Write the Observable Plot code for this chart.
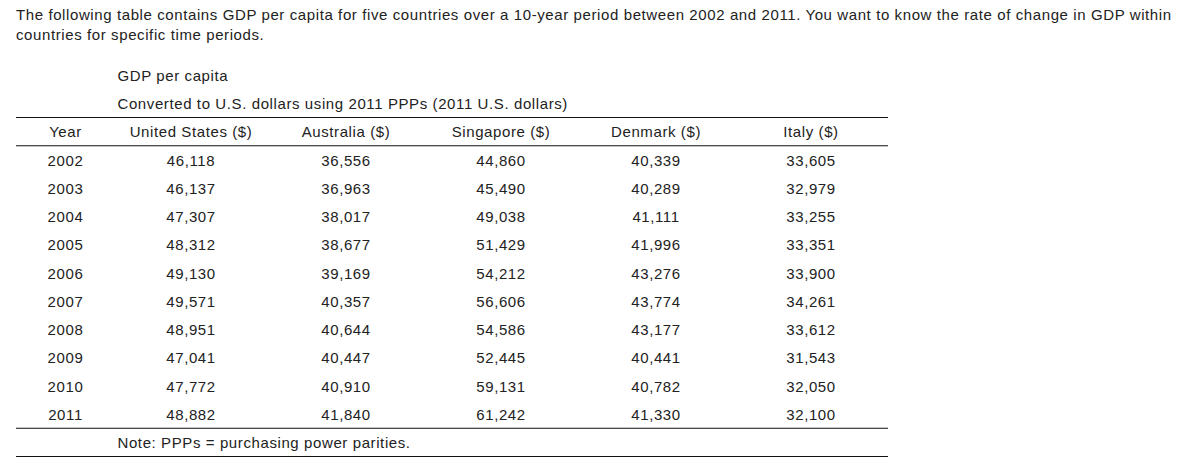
<!DOCTYPE html>
<html>
<head>
<meta charset="utf-8">
<script src="https://cdn.jsdelivr.net/npm/d3@7"></script>
<script src="https://cdn.jsdelivr.net/npm/@observablehq/plot@0.6"></script>
<style>
  html, body { margin: 0; padding: 0; background: #fff; }
  body { width: 1177px; height: 465px; overflow: hidden; font-family: "Liberation Sans", Arial, sans-serif; color: #222; }
  #intro { padding: 5px 0 0 16px; font-size: 15px; letter-spacing: 0.6px; line-height: 20px; height: 40px; white-space: nowrap; }
  svg { display: block; }
</style>
</head>
<body>
<div id="intro"></div>
<div id="chart"></div>
<script>
const introLines = [
  "The following table contains GDP per capita for five countries over a 10-year period between 2002 and 2011. You want to know the rate of change in GDP within",
  "countries for specific time periods."
];
const titleLines = ["GDP per capita", "Converted to U.S. dollars using 2011 PPPs (2011 U.S. dollars)"];
const noteText = "Note: PPPs = purchasing power parities.";
const yearLabel = "Year";
const columnLabels = ["United States ($)", "Australia ($)", "Singapore ($)", "Denmark ($)", "Italy ($)"];
const years = [2002, 2003, 2004, 2005, 2006, 2007, 2008, 2009, 2010, 2011];
const unitedStates = [46118, 46137, 47307, 48312, 49130, 49571, 48951, 47041, 47772, 48882];
const australia = [36556, 36963, 38017, 38677, 39169, 40357, 40644, 40447, 40910, 41840];
const singapore = [44860, 45490, 49038, 51429, 54212, 56606, 54586, 52445, 59131, 61242];
const denmark = [40339, 40289, 41111, 41996, 43276, 43774, 43177, 40441, 40782, 41330];
const italy = [33605, 32979, 33255, 33351, 33900, 34261, 33612, 31543, 32050, 32100];

document.getElementById("intro").innerHTML = introLines.join("<br>");

const series = [unitedStates, australia, singapore, denmark, italy];
const cells = [];
years.forEach((yr, i) => columnLabels.forEach((c, j) => cells.push({year: String(yr), country: c, value: series[j][i]})));

const rows = [...titleLines, yearLabel, ...years.map(String), noteText];
const idx = (r) => rows.indexOf(String(r));
const fmt = d3.format(",");
const fs = 15;
const ink = "#222";

const chart = Plot.plot({
  width: 1177,
  height: 420,
  marginLeft: 16,
  marginRight: 289,
  marginTop: 15.5,
  marginBottom: 9,
  style: {fontFamily: "'Liberation Sans', Arial, sans-serif", fontSize: "15px", letterSpacing: "0.6px", color: ink, background: "#fff"},
  x: {type: "band", domain: columnLabels, axis: null, insetLeft: 96, padding: 0},
  y: {type: "linear", domain: [-0.5, rows.length - 0.5], reverse: true, axis: null},
  marks: [
    Plot.text(titleLines, {y: (d) => idx(d), text: (d) => d, frameAnchor: "left", textAnchor: "start", dx: 101, dy: 1, fontSize: fs, fill: ink}),
    Plot.text(columnLabels, {x: (d) => d, y: () => idx(yearLabel), text: (d) => d, dy: 1, fontSize: fs, fill: ink}),
    Plot.text([yearLabel, ...years], {y: (d) => idx(d), text: (d) => String(d), frameAnchor: "left", textAnchor: "middle", dx: 49, dy: 1, fontSize: fs, fill: ink}),
    Plot.text(cells, {x: "country", y: (d) => idx(d.year), text: (d) => fmt(d.value), dy: 1, fontSize: fs, fill: ink}),
    Plot.text([noteText], {y: (d) => idx(d), text: (d) => d, frameAnchor: "left", textAnchor: "start", dx: 101, dy: 1, fontSize: fs, fill: ink}),
    Plot.ruleY([idx(yearLabel) - 0.5, idx(years[0]) - 0.5, idx(noteText) - 0.5, idx(noteText) + 0.5], {stroke: "#111", strokeWidth: 1})
  ]
});
document.getElementById("chart").appendChild(chart);
</script>
</body>
</html>
